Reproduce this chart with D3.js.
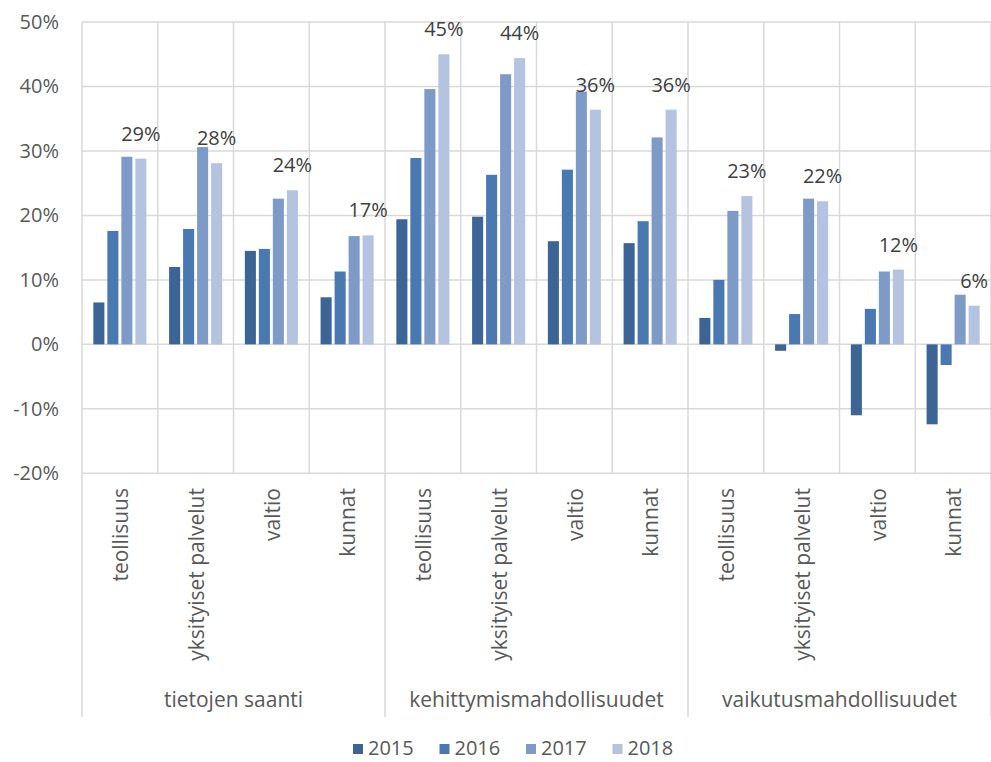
<!DOCTYPE html>
<html>
<head>
<meta charset="utf-8">
<script src="https://cdn.jsdelivr.net/npm/d3@7"></script>
<style>
  body { margin: 0; background: #fff; }
  svg text { font-family: "Open Sans", sans-serif; }
</style>
</head>
<body>
<svg width="991" height="762"></svg>
<script>
// data
const groups = ["tietojen saanti", "kehittymismahdollisuudet", "vaikutusmahdollisuudet"];
const subcats = ["teollisuus", "yksityiset palvelut", "valtio", "kunnat"];
const years = ["2015", "2016", "2017", "2018"];
const values2015 = [0.065, 0.120, 0.145, 0.073, 0.194, 0.198, 0.160, 0.157, 0.041, -0.010, -0.110, -0.124];
const values2016 = [0.176, 0.179, 0.148, 0.113, 0.289, 0.263, 0.271, 0.191, 0.100, 0.047, 0.055, -0.032];
const values2017 = [0.291, 0.306, 0.226, 0.168, 0.396, 0.419, 0.392, 0.321, 0.207, 0.226, 0.113, 0.077];
const values2018 = [0.288, 0.281, 0.239, 0.169, 0.450, 0.444, 0.364, 0.364, 0.230, 0.222, 0.116, 0.060];
const yTicks = [-0.2, -0.1, 0, 0.1, 0.2, 0.3, 0.4, 0.5];
const colors = ["#3c6595", "#4a78b0", "#7e9bc8", "#b4c3df"];

const series = [values2015, values2016, values2017, values2018];
const cats = [];
groups.forEach((g, gi) => subcats.forEach((s, si) => cats.push({ group: g, name: s, i: gi * 4 + si })));

const svg = d3.select("svg");
const plotLeft = 82, plotRight = 991, plotTop = 22, plotBottom = 473.3;

const x = d3.scaleBand().domain(cats.map(d => d.i)).range([plotLeft, plotRight]);
const xInner = d3.scaleBand().domain(years).range([0, x.bandwidth()])
  .paddingInner(0.21).paddingOuter(0.81);
const y = d3.scaleLinear().domain([-0.2, 0.5]).range([plotBottom, plotTop]);
// plain hyphen for negatives, like the original
const locale = d3.formatLocale({ decimal: ".", thousands: ",", grouping: [3], currency: ["", ""], minus: "-" });
const fmt = locale.format(".0%");
const grid = "#d9d9d9";

// horizontal gridlines
svg.append("g").selectAll("line")
  .data(yTicks)
  .enter().append("line")
  .attr("x1", plotLeft).attr("x2", plotRight)
  .attr("y1", d => y(d)).attr("y2", d => y(d))
  .style("stroke", grid).style("stroke-width", "1.5px");

// vertical gridlines between categories
svg.append("g").selectAll("line")
  .data(d3.range(cats.length + 1))
  .enter().append("line")
  .attr("x1", i => plotLeft + i * x.step()).attr("x2", i => plotLeft + i * x.step())
  .attr("y1", plotTop).attr("y2", plotBottom)
  .style("stroke", grid).style("stroke-width", "1.5px");

// group separators below axis
svg.append("g").selectAll("line")
  .data(d3.range(groups.length + 1))
  .enter().append("line")
  .attr("x1", i => plotLeft + i * 4 * x.step()).attr("x2", i => plotLeft + i * 4 * x.step())
  .attr("y1", plotBottom).attr("y2", 717)
  .style("stroke", grid).style("stroke-width", "1.5px");

// y tick labels
svg.append("g").selectAll("text")
  .data(yTicks)
  .enter().append("text")
  .attr("x", 59).attr("y", d => y(d)).attr("dy", "0.35em")
  .attr("text-anchor", "end")
  .style("font-size", "20px").style("fill", "#595959")
  .text(d => fmt(d));

// bars
years.forEach((yr, k) => {
  svg.append("g").selectAll("rect")
    .data(cats)
    .enter().append("rect")
    .attr("x", d => x(d.i) + xInner(yr))
    .attr("width", xInner.bandwidth())
    .attr("y", d => y(Math.max(0, series[k][d.i])))
    .attr("height", d => Math.abs(y(series[k][d.i]) - y(0)))
    .style("fill", colors[k]);
});

// data labels on 2018 bars
svg.append("g").selectAll("text")
  .data(cats)
  .enter().append("text")
  .attr("x", d => x(d.i) + xInner("2018") + xInner.bandwidth() / 2)
  .attr("y", d => y(values2018[d.i]) - 18)
  .attr("text-anchor", "middle")
  .style("font-size", "20px").style("fill", "#404040")
  .text(d => fmt(values2018[d.i]));

// rotated category labels
svg.append("g").selectAll("text")
  .data(cats)
  .enter().append("text")
  .attr("transform", d => `translate(${x(d.i) + x.bandwidth() / 2 + 1},488) rotate(-90)`)
  .attr("dy", "0.35em")
  .attr("text-anchor", "end")
  .style("font-size", "21px").style("fill", "#595959")
  .text(d => d.name);

// group labels
svg.append("g").selectAll("text")
  .data(groups)
  .enter().append("text")
  .attr("x", (g, i) => plotLeft + (i * 4 + 2) * x.step())
  .attr("y", 707)
  .attr("text-anchor", "middle")
  .style("font-size", "21px").style("fill", "#595959")
  .text(d => d);

// legend
const legend = svg.append("g").selectAll("g")
  .data(years)
  .enter().append("g")
  .attr("transform", (d, i) => `translate(${353 + i * 86.5},0)`);
legend.append("rect")
  .attr("x", 0).attr("y", 744).attr("width", 10).attr("height", 10)
  .style("fill", (d, i) => colors[i]);
legend.append("text")
  .attr("x", 15).attr("y", 755)
  .style("font-size", "20px").style("fill", "#595959")
  .text(d => d);
</script>
</body>
</html>
